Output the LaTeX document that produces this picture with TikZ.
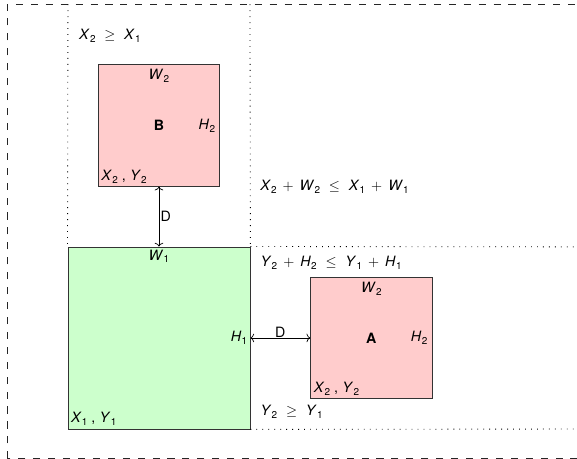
\documentclass[tikz,border=0pt]{standalone}
\usepackage{fontspec}
\usetikzlibrary{arrows.meta}
\setmainfont{TeX Gyre Heros}
\newcommand\vr[2]{\textit{#1}\kern0.02em\raisebox{-0.4ex}{\scriptsize #2}}
\newcommand\rl[1]{\hspace{0.62em}$#1$\hspace{0.62em}}
\newcommand\bn[1]{\hspace{0.42em}$#1$\hspace{0.42em}}
\newcommand\cm{\kern0.28em,\kern0.3em}
\begin{document}
\begin{tikzpicture}[x=1.5cm,y=1.5cm,font=\fontsize{10}{12}\selectfont,
  pinkbox/.style={draw=black!80,line width=0.6pt,fill=red!20,minimum size=3cm,inner sep=0pt},
  greenbox/.style={draw=black!80,line width=0.6pt,fill=green!20,minimum size=4.5cm,inner sep=0pt},
  framedash/.style={draw=black!85,line width=0.5pt,dash pattern=on 5pt off 5.5pt},
  guidedot/.style={draw=black,line width=0.6pt,dash pattern=on 0.6pt off 3.6pt},
  lbl/.style={inner sep=3.3pt},
  cond/.style={anchor=west,inner sep=0pt},
  dist/.style={{To[length=2.6pt,width=6pt]}-{To[length=2.6pt,width=6pt]},line width=0.5pt}]
\useasboundingbox (-1.12,-0.495) rectangle (8.39,7.07);
\draw[framedash] (-1,-0.485) rectangle (9.5,7);
% boxes
\node[greenbox] (g) at (1.5,1.5) {};
\node[pinkbox] (b) at (1.5,5) {\textbf{B}};
\node[pinkbox] (a) at (5,1.5) {\textbf{A}};
% guide lines
\coordinate (t0) at (0,7);
\coordinate (t3) at (3,7);
\coordinate (r3) at (9.5,3);
\coordinate (r0) at (9.5,0);
\draw[guidedot] (t0) -- (g.north west);
\draw[guidedot] (t3) -- (g.north east);
\draw[guidedot] (g.north east) -- (r3);
\draw[guidedot] (g.south east) -- (r0);
% labels B
\node[lbl,anchor=north] (bw) at (b.north) {\vr{W}{2}};
\node[lbl,anchor=east] (bh) at (b.east) {\vr{H}{2}};
\node[lbl,anchor=south west,inner sep=2.3pt] (bxy) at (b.south west) {\vr{X}{2}\cm\vr{Y}{2}};
% labels A
\node[lbl,anchor=north] (aw) at (a.north) {\vr{W}{2}};
\node[lbl,anchor=east] (ah) at (a.east) {\vr{H}{2}};
\node[lbl,anchor=south west,inner sep=2.3pt] (axy) at (a.south west) {\vr{X}{2}\cm\vr{Y}{2}};
% labels green
\node[lbl,anchor=north,inner sep=2pt] (gw) at (g.north) {\vr{W}{1}};
\node[lbl,anchor=east,inner sep=2pt] (gh) at (g.east) {\vr{H}{1}};
\node[lbl,anchor=south west,inner sep=2.3pt] (gxy) at (g.south west) {\vr{X}{1}\cm\vr{Y}{1}};
% conditions
\node[cond] (c1) at (0.18,6.48) {\vr{X}{2}\rl{\geq}\vr{X}{1}};
\node[cond] (c2) at (3.165,3.99) {\vr{X}{2}\bn{+}\vr{W}{2}\rl{\leq}\vr{X}{1}\bn{+}\vr{W}{1}};
\node[cond] (c3) at (3.17,2.74) {\vr{Y}{2}\bn{+}\vr{H}{2}\rl{\leq}\vr{Y}{1}\bn{+}\vr{H}{1}};
\node[cond] (c4) at (3.17,0.285) {\vr{Y}{2}\rl{\geq}\vr{Y}{1}};
% distances
\draw[dist] (b.south) -- node[right,inner sep=1pt] {D} (g.north);
\draw[dist] (g.east) -- node[above,inner sep=0pt] {D} (a.west);
\end{tikzpicture}
\end{document}
